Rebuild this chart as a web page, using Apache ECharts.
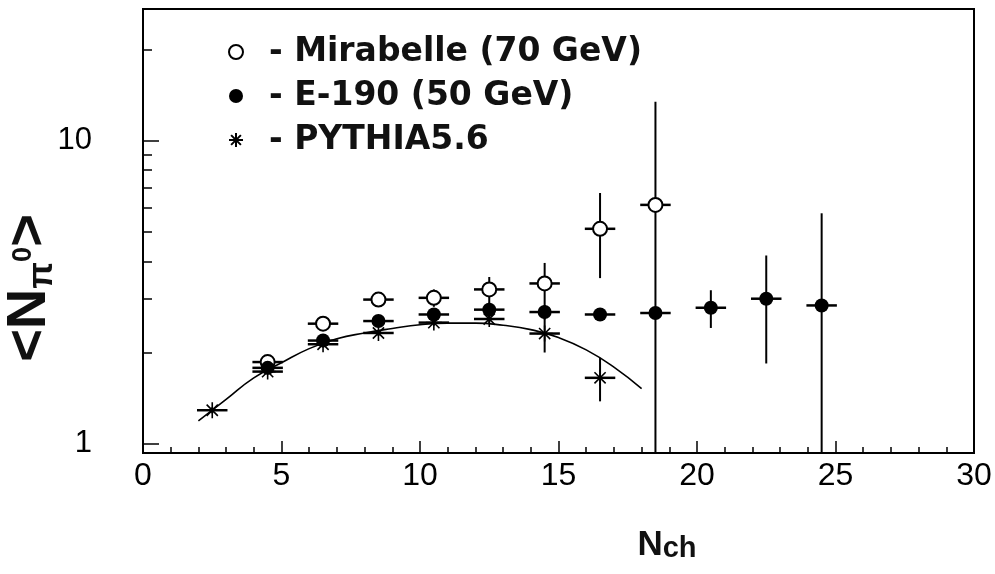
<!DOCTYPE html>
<html>
<head>
<meta charset="utf-8">
<title>Npi0 vs Nch</title>
<script src="https://cdn.jsdelivr.net/npm/echarts@6/dist/echarts.min.js"></script>
<style>
  html, body { margin: 0; padding: 0; background: #fff; }
  #chart { width: 995px; height: 574px; }
</style>
</head>
<body>
<div id="chart"></div>
<script>
// axis ranges
const yMin = 0.932
const yMax = 27.2
const xTickLabels = [0, 5, 10, 15, 20, 25, 30]
const yMajorTicks = [1, 10]
const yMinorTicks = [2, 3, 4, 5, 6, 7, 8, 9, 20]

// Mirabelle (70 GeV) - open circles
const mirX = [4.5, 6.5, 8.5, 10.5, 12.5, 14.5, 16.5, 18.5]
const mirY = [1.86, 2.49, 2.99, 3.03, 3.23, 3.38, 5.12, 6.14]
const mirErr = [0.04, 0.06, 0.08, 0.2, 0.32, 0.57, 1.6, 7.3]

// E-190 (50 GeV) - filled circles
const e190X = [4.5, 6.5, 8.5, 10.5, 12.5, 14.5, 16.5, 18.5, 20.5, 22.5, 24.5]
const e190Y = [1.78, 2.19, 2.54, 2.67, 2.77, 2.72, 2.67, 2.70, 2.81, 3.01, 2.86]
const e190Err = [0.05, 0.06, 0.08, 0.1, 0.15, 0.15, 0.04, 0.1, 0.4, 1.17, 2.9]

// PYTHIA5.6 - stars
const pyX = [2.5, 4.5, 6.5, 8.5, 10.5, 12.5, 14.5, 16.5]
const pyY = [1.29, 1.73, 2.13, 2.32, 2.51, 2.58, 2.31, 1.65]
const pyErr = [0.03, 0.04, 0.05, 0.05, 0.06, 0.08, 0.31, 0.27]

// fitted curve
const fitX = [2, 3, 4, 5, 6, 7, 8, 9, 10, 11, 12, 13, 14, 15, 16, 17, 18]
const fitY = [1.19, 1.40, 1.65, 1.85, 2.06, 2.22, 2.32, 2.40, 2.47, 2.50, 2.50, 2.46, 2.38, 2.24, 2.04, 1.79, 1.52]

// half width of the horizontal error bar
const xHalf = 0.55

const starPath = 'path://M0,5L10,5M5,0L5,10M1.5,1.5L8.5,8.5M8.5,1.5L1.5,8.5'

const chart = echarts.init(document.getElementById('chart'))

function errorBarItem (params, api) {
    const x = api.value(0)
    const y = api.value(1)
    const e = api.value(2)
    const lo = Math.max(y - e, yMin)
    const hi = Math.min(y + e, yMax)
    const pLo = api.coord([x, lo])
    const pHi = api.coord([x, hi])
    const pL = api.coord([x - xHalf, y])
    const pR = api.coord([x + xHalf, y])
    return {
        type: 'group',
        children: [
            { type: 'line', shape: { x1: pLo[0], y1: pLo[1], x2: pHi[0], y2: pHi[1] }, style: { stroke: '#000', lineWidth: 2 } },
            { type: 'line', shape: { x1: pL[0], y1: pL[1], x2: pR[0], y2: pR[1] }, style: { stroke: '#000', lineWidth: 2.5 } }
        ]
    }
}

function errSeries (xs, ys, errs) {
    return {
        type: 'custom',
        renderItem: errorBarItem,
        encode: { x: 0, y: 1 },
        clip: true,
        silent: true,
        z: 2,
        data: xs.map((x, i) => [x, ys[i], errs[i]])
    }
}

const pair = (xs, ys) => xs.map((x, i) => [x, ys[i]])

const option = {
    backgroundColor: '#fff',
    animation: false,
    grid: {
        left: 143,
        right: 21,
        top: 9,
        bottom: 121,
        show: true,
        borderColor: '#000',
        borderWidth: 2,
        containLabel: false,
        outerBoundsMode: 'none'
    },
    legend: {
        orient: 'vertical',
        left: 223,
        top: 30,
        itemWidth: 56,
        itemHeight: 14,
        itemGap: 10,
        selectedMode: false,
        formatter: name => '- ' + name,
        textStyle: {
            fontFamily: 'DejaVu Sans',
            fontWeight: 'bold',
            fontSize: 33,
            lineHeight: 34,
            color: '#111'
        },
        data: [
            { name: 'Mirabelle (70 GeV)', icon: 'circle', itemStyle: { color: '#fff', borderColor: '#000', borderWidth: 2 } },
            { name: 'E-190 (50 GeV)', icon: 'circle', itemStyle: { color: '#000', borderWidth: 0 } },
            { name: 'PYTHIA5.6', icon: starPath, itemStyle: { color: '#000', borderColor: '#000', borderWidth: 2 } }
        ]
    },
    xAxis: {
        type: 'value',
        min: 0,
        max: 30,
        interval: 5,
        name: '{n|N}{c|ch}',
        nameLocation: 'middle',
        nameGap: 70,
        nameMoveOverlap: false,
        nameTextStyle: {
            padding: [0, 0, 0, 217],
            rich: {
                n: { fontFamily: 'Liberation Sans', fontWeight: 'bold', fontSize: 35, lineHeight: 40, verticalAlign: 'bottom', color: '#111' },
                c: { fontFamily: 'Liberation Sans', fontWeight: 'bold', fontSize: 29, lineHeight: 36, verticalAlign: 'bottom', color: '#111' }
            }
        },
        axisLine: { onZero: false, lineStyle: { color: '#000', width: 2 } },
        axisTick: { inside: true, length: 12, lineStyle: { color: '#000', width: 1.5 } },
        minorTick: { show: true, splitNumber: 5, length: 6, lineStyle: { color: '#000', width: 1.5 } },
        axisLabel: {
            margin: 7,
            fontFamily: 'Liberation Sans',
            fontSize: 32,
            color: '#000',
            formatter: v => xTickLabels.includes(v) ? String(v) : ''
        },
        splitLine: { show: false }
    },
    yAxis: [
        {
            type: 'log',
            logBase: 10,
            min: yMin,
            max: yMax,
            name: '{a|<N}{s|π}{p|0}{a|>}',
            nameLocation: 'middle',
            nameGap: 83,
            nameMoveOverlap: false,
            nameTextStyle: {
                padding: [0, 114, 0, 0],
                rich: {
                    a: { fontFamily: 'Liberation Sans', fontWeight: 'bold', fontSize: 56, lineHeight: 60, color: '#111' },
                    s: { fontFamily: 'Liberation Sans', fontWeight: 'bold', fontSize: 35, lineHeight: 42, verticalAlign: 'bottom', color: '#111' },
                    p: { fontFamily: 'Liberation Sans', fontWeight: 'bold', fontSize: 27, verticalAlign: 'top', padding: [10, 0, 0, 0], color: '#111' }
                }
            },
            axisLine: { lineStyle: { color: '#000', width: 2 } },
            axisTick: { inside: true, length: 16, lineStyle: { color: '#000', width: 1.5 } },
            axisLabel: {
                margin: 51,
                fontFamily: 'Liberation Sans',
                fontSize: 31,
                color: '#000',
                formatter: v => yMajorTicks.some(t => Math.abs(v - t) < 1e-6) ? String(Math.round(v)) : ''
            },
            splitLine: { show: false }
        },
        {
            // log10 space copy of the y axis, only used for the small ticks
            type: 'value',
            position: 'left',
            min: Math.log10(yMin),
            max: Math.log10(yMax),
            axisLine: { show: false },
            axisTick: {
                show: true,
                inside: true,
                length: 9,
                customValues: yMinorTicks.map(v => Math.log10(v)),
                lineStyle: { color: '#000', width: 1.5 }
            },
            axisLabel: { show: false },
            splitLine: { show: false }
        }
    ],
    series: [
        {
            name: 'fit',
            type: 'line',
            data: pair(fitX, fitY),
            smooth: true,
            showSymbol: false,
            silent: true,
            z: 1,
            lineStyle: { color: '#000', width: 1.6 }
        },
        errSeries(mirX, mirY, mirErr),
        errSeries(e190X, e190Y, e190Err),
        errSeries(pyX, pyY, pyErr),
        {
            name: 'Mirabelle (70 GeV)',
            type: 'scatter',
            symbol: 'circle',
            symbolSize: 14,
            z: 4,
            itemStyle: { color: '#fff', borderColor: '#000', borderWidth: 2, opacity: 1 },
            data: pair(mirX, mirY)
        },
        {
            name: 'E-190 (50 GeV)',
            type: 'scatter',
            symbol: 'circle',
            symbolSize: 14,
            z: 4,
            itemStyle: { color: '#000', opacity: 1 },
            data: pair(e190X, e190Y)
        },
        {
            name: 'PYTHIA5.6',
            type: 'scatter',
            symbol: starPath,
            symbolSize: 16,
            z: 4,
            itemStyle: { color: '#000', borderColor: '#000', borderWidth: 1.6, opacity: 1 },
            data: pair(pyX, pyY)
        }
    ]
}

chart.setOption(option)
</script>
</body>
</html>
